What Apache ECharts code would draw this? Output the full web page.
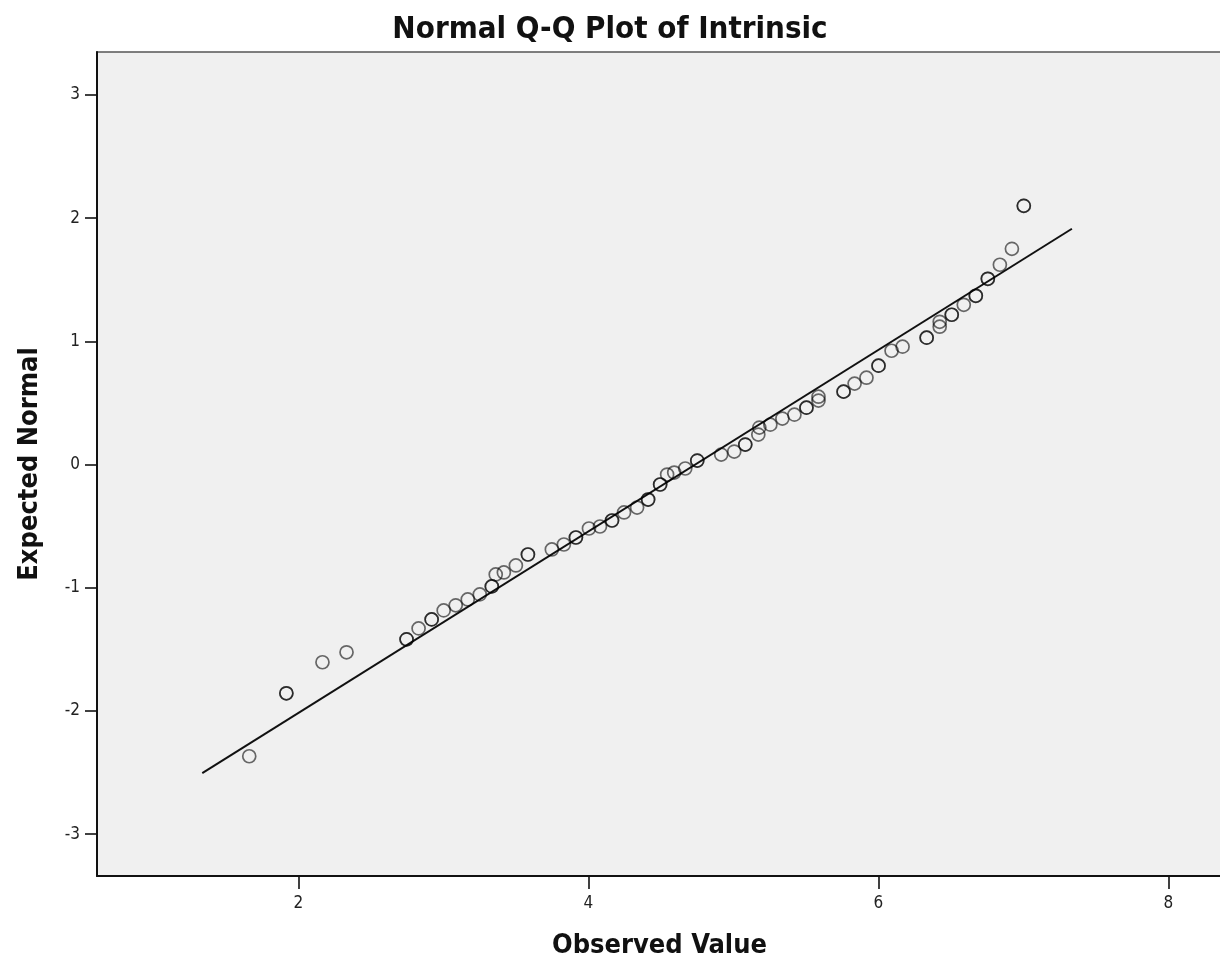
<!DOCTYPE html>
<html>
<head>
<meta charset="utf-8">
<script src="https://cdn.jsdelivr.net/npm/echarts@6/dist/echarts.min.js"></script>
<style>html,body{margin:0;padding:0;background:#fff}#c{width:1220px;height:965px}</style>
</head>
<body>
<div id="c"></div>
<script>
const observed = [1.661,1.917,2.166,2.332,2.746,2.829,2.919,3.002,3.085,3.168,3.251,3.334,3.361,3.417,3.500,3.583,3.748,3.831,3.914,4.004,4.080,4.163,4.246,4.336,4.412,4.495,4.543,4.592,4.668,4.751,4.916,5.006,5.082,5.172,5.179,5.255,5.338,5.421,5.504,5.587,5.587,5.760,5.836,5.918,6.001,6.091,6.167,6.333,6.423,6.423,6.506,6.589,6.672,6.755,6.838,6.921,7.003];
const expected = [-2.368,-1.857,-1.605,-1.524,-1.419,-1.330,-1.257,-1.184,-1.143,-1.095,-1.054,-0.989,-0.892,-0.876,-0.819,-0.730,-0.689,-0.649,-0.592,-0.519,-0.503,-0.454,-0.389,-0.349,-0.284,-0.162,-0.081,-0.065,-0.032,0.032,0.081,0.105,0.162,0.243,0.300,0.324,0.373,0.405,0.462,0.519,0.551,0.592,0.657,0.705,0.803,0.924,0.957,1.030,1.119,1.159,1.216,1.297,1.370,1.508,1.622,1.751,2.100];
// number of tied observations drawn at each point
const ties = [1,2,1,1,2,1,2,1,1,1,1,2,1,1,1,2,1,1,2,1,1,2,1,1,2,2,1,1,1,2,1,1,2,1,1,1,1,1,2,1,1,2,1,1,2,1,1,2,1,1,2,1,2,2,1,1,2];
const lineX = [1.337, 7.335];
const lineY = [-2.505, 1.914];
const xTicks = [2,4,6,8];
const yTicks = [-3,-2,-1,0,1,2,3];

const single = [], extra = [];
observed.forEach((v,i)=>{ single.push([v, expected[i]]); if (ties[i] > 1) extra.push([v, expected[i]]); });

const chart = echarts.init(document.getElementById('c'));
const font = '"DejaVu Sans Condensed","Liberation Sans Narrow","Liberation Sans",sans-serif';
const circleStyle = {color:'rgba(0,0,0,0)',borderColor:'rgba(0,0,0,0.72)',borderWidth:1.7};
chart.setOption({
  animation:false,
  backgroundColor:'#fff',
  title:{text:'Normal Q-Q Plot of Intrinsic',left:'center',top:9,
    textStyle:{fontFamily:font,fontSize:31,fontWeight:'bold',color:'#111'}},
  grid:{left:97,top:52,right:-2,bottom:89,show:true,backgroundColor:'#f0f0f0',borderColor:'#555',borderWidth:1.5,
    outerBoundsMode:'none',containLabel:false},
  xAxis:{type:'value',min:0.611,max:8.37,name:'Observed Value',nameLocation:'middle',nameGap:56,
    nameTextStyle:{fontFamily:font,fontSize:27,fontWeight:'bold',color:'#111'},
    splitLine:{show:false},
    axisLine:{onZero:false,lineStyle:{color:'#111',width:2}},
    axisTick:{customValues:xTicks,length:13,lineStyle:{color:'#111',width:1.6}},
    axisLabel:{customValues:xTicks,margin:19,fontFamily:font,fontSize:17,color:'#222'}},
  yAxis:{type:'value',min:-3.34,max:3.349,name:'Expected Normal',nameLocation:'middle',nameGap:54,
    nameTextStyle:{fontFamily:font,fontSize:27,fontWeight:'bold',color:'#111'},
    splitLine:{show:false},
    axisLine:{show:true,onZero:false,lineStyle:{color:'#111',width:2}},
    axisTick:{show:true,customValues:yTicks,length:12,lineStyle:{color:'#111',width:1.6}},
    axisLabel:{customValues:yTicks,margin:17,fontFamily:font,fontSize:17,color:'#222'}},
  series:[
    {type:'line',data:lineX.map((x,i)=>[x,lineY[i]]),symbol:'none',lineStyle:{color:'#111',width:2},z:1},
    {type:'scatter',data:single,symbol:'circle',symbolSize:13,itemStyle:circleStyle,z:2},
    {type:'scatter',data:extra,symbol:'circle',symbolSize:13,itemStyle:circleStyle,z:3}
  ]
});
</script>
</body>
</html>
